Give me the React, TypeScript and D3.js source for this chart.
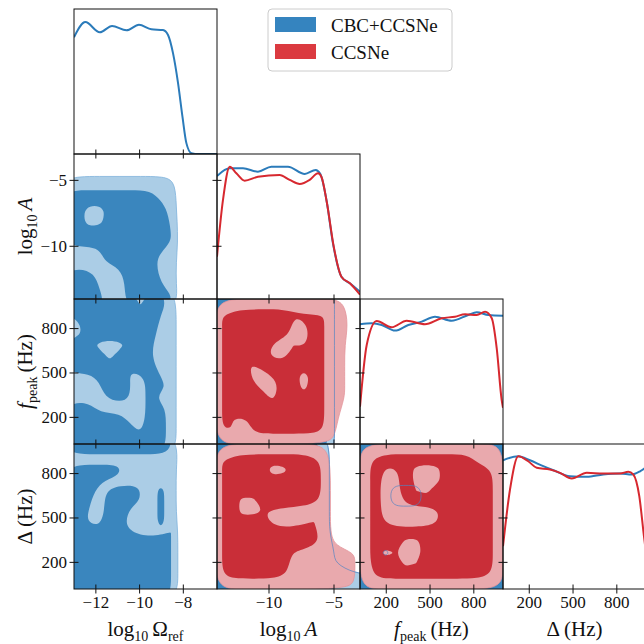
import React, { useMemo } from "react";
import * as d3 from "d3";

// axis ranges and ticks
const omegaDomain = [-13, -6.46];
const logADomain = [-14, -3];
const fpeakDomain = [20, 1000];
const deltaDomain = [20, 1000];
const omegaTicks = [-12, -10, -8];
const logATicks = [-10, -5];
const fpeakTicks = [200, 500, 800];
const deltaTicks = [200, 500, 800];

const seriesNames = ["CBC+CCSNe", "CCSNe"];

// 1D marginals: [value, relative density]
const omegaKdeBlue = [[-13.0, 0.805], [-12.48, 0.91], [-11.82, 0.839], [-11.26, 0.883], [-10.6, 0.853], [-10.03, 0.891], [-9.46, 0.86], [-8.93, 0.855], [-8.7, 0.821], [-8.47, 0.694], [-8.24, 0.487], [-8.04, 0.258], [-7.86, 0.075], [-7.63, 0.006], [-7.3, 0], [-6.46, 0]];
const logAKdeBlue = [[-14.0, 0.848], [-13.02, 0.901], [-12.0, 0.901], [-10.85, 0.878], [-9.82, 0.912], [-8.54, 0.912], [-7.25, 0.862], [-6.41, 0.89], [-6.05, 0.862], [-5.58, 0.683], [-5.08, 0.384], [-4.43, 0.154], [-3.78, 0.108], [-3.0, 0.05]];
const logAKdeRed = [[-14.0, 0.292], [-13.54, 0.683], [-13.02, 0.912], [-12.51, 0.867], [-11.87, 0.816], [-10.85, 0.843], [-9.18, 0.855], [-8.41, 0.821], [-7.64, 0.793], [-6.87, 0.821], [-6.23, 0.867], [-5.97, 0.843], [-5.54, 0.66], [-5.02, 0.361], [-4.43, 0.154], [-3.78, 0.108], [-3.0, 0.03]];
const fpeakKdeBlue = [[20, 0.826], [100, 0.832], [169, 0.821], [260, 0.782], [351, 0.821], [443, 0.844], [534, 0.878], [648, 0.85], [762, 0.89], [820, 0.908], [900, 0.89], [1000, 0.885]];
const fpeakKdeRed = [[20, 0.257], [66, 0.683], [134, 0.848], [237, 0.805], [340, 0.85], [465, 0.826], [579, 0.867], [671, 0.878], [740, 0.894], [820, 0.89], [877, 0.912], [923, 0.867], [957, 0.66], [991, 0.303], [1000, 0.25]];
const deltaKdeBlue = [[20, 0.888], [125, 0.916], [205, 0.888], [296, 0.847], [365, 0.819], [479, 0.778], [594, 0.774], [707, 0.79], [822, 0.797], [902, 0.79], [959, 0.812], [986, 0.829], [1000, 0.84]];
const deltaKdeRed = [[20, 0.295], [68, 0.686], [125, 0.916], [193, 0.881], [251, 0.836], [342, 0.824], [411, 0.801], [491, 0.762], [594, 0.801], [707, 0.797], [822, 0.797], [879, 0.808], [913, 0.79], [954, 0.64], [986, 0.364], [1000, 0.25]];

// 2D densities on a 14x14 grid (0 empty, 4 outer level, 8 inner level)
const omegaLogABlue = [
  "00000000000000",
  "00000000000000",
  "33333333330000",
  "66666666440000",
  "88888888640000",
  "84488888850000",
  "84588888850000",
  "88888888860000",
  "88888888860000",
  "44488888650000",
  "44488888440000",
  "88444888440000",
  "88444888640000",
  "88844888860000",
];
const omegaFpeakBlue = [
  "88888848840000",
  "88888888640000",
  "48888888440000",
  "58888888440000",
  "88545886440000",
  "88858886440000",
  "88888886440000",
  "55888448640000",
  "44488848840000",
  "44488648440000",
  "88444448840000",
  "88888448840000",
  "88888848840000",
  "88888888840000",
];
const omegaDeltaBlue = [
  "88888888860000",
  "44444444440000",
  "88888444440000",
  "88844444440000",
  "88488884740000",
  "88488864740000",
  "85488544740000",
  "85488444740000",
  "88888644560000",
  "88888888860000",
  "88888888860000",
  "88888888860000",
  "88888888860000",
  "88888888860000",
];
const logAFpeakRed = [
  "44444444444420",
  "68888886686430",
  "68888885486430",
  "68888885486430",
  "68888546586420",
  "68888448886420",
  "68858888886420",
  "68844688486420",
  "68885488586420",
  "68888468886420",
  "68888888886310",
  "66488888886300",
  "66488888886300",
  "44444444443200",
];
const logAFpeakBlue = [
  "88888888888200", "88888888888200", "88888888888200", "88888888888200",
  "88888888888200", "88888888888200", "88888888888200", "88888888888200",
  "88888888888200", "88888888888200", "88888888888200", "88888888888200",
  "88888888888200", "88888888888200",
];
const logADeltaRed = [
  "44444444443000",
  "68888888885000",
  "68888458885000",
  "68888888885000",
  "68888888885000",
  "68558888885000",
  "68556554455000",
  "68888444465000",
  "68888888885000",
  "68888888885100",
  "68888885555442",
  "68888884445442",
  "68888884445442",
  "44444444444432",
];
const logADeltaBlue = [
  "88888888884000", "88888888884000", "88888888884000", "88888888884000",
  "88888888884000", "88888888884000", "88888888884000", "88888888884000",
  "88888888884000", "88888888884000", "88888888886200", "88888888886200",
  "88888888888642", "88888888888644",
];
const fpeakDeltaRed = [
  "44444444444444",
  "48888888888554",
  "48558545888884",
  "48448545888884",
  "48458658888884",
  "48458888888884",
  "48444445888884",
  "48544445888884",
  "48888888888884",
  "48885588888884",
  "48564488888884",
  "48885688888884",
  "48888888888884",
  "44444444444444",
];
const fpeakDeltaBlue = [
  "88888888888888", "88888888888888", "88888888888888", "88888888888888",
  "88844488888888", "88844488888888", "88888888888888", "88888888888888",
  "88888888888888", "88888888888888", "88588888888888", "88888888888888",
  "88888888888888", "88888888888888",
];

const LEFT = 74;
const TOP = 9;
const PW = 143;
const PH = 145;
const FONT = "'Liberation Serif', 'DejaVu Serif', serif";

const fills = {
  blue: ["#abcde6", "#3a86be"],
  red: ["#e9a9ad", "#c92e38"],
};
const lineColors = { blue: "#2b7bba", red: "#d7282f" };

const vars = [
  { domain: omegaDomain, ticks: omegaTicks },
  { domain: logADomain, ticks: logATicks },
  { domain: fpeakDomain, ticks: fpeakTicks },
  { domain: deltaDomain, ticks: deltaTicks },
];

const diagSeries = [
  [{ data: omegaKdeBlue, color: "blue" }],
  [{ data: logAKdeBlue, color: "blue" }, { data: logAKdeRed, color: "red" }],
  [{ data: fpeakKdeBlue, color: "blue" }, { data: fpeakKdeRed, color: "red" }],
  [{ data: deltaKdeBlue, color: "blue" }, { data: deltaKdeRed, color: "red" }],
];

const panels2d = [
  { r: 1, c: 0, layers: [{ grid: omegaLogABlue, pad: "edge", color: "blue" }] },
  { r: 2, c: 0, layers: [{ grid: omegaFpeakBlue, pad: "edge", color: "blue" }] },
  { r: 3, c: 0, layers: [{ grid: omegaDeltaBlue, pad: "edge", color: "blue" }] },
  {
    r: 2, c: 1,
    layers: [{ grid: logAFpeakBlue, pad: "edge", color: "blue" }, { grid: logAFpeakRed, pad: "zero", color: "red" }],
    outline: { grid: logAFpeakBlue, level: 2 },
  },
  {
    r: 3, c: 1,
    layers: [{ grid: logADeltaBlue, pad: "edge", color: "blue" }, { grid: logADeltaRed, pad: "zero", color: "red" }],
    outline: { grid: logADeltaBlue, level: 2 },
  },
  {
    r: 3, c: 2,
    layers: [{ grid: fpeakDeltaBlue, pad: "edge", color: "blue" }, { grid: fpeakDeltaRed, pad: "zero", color: "red" }],
    outline: { grid: fpeakDeltaBlue, level: 6 },
  },
];

const smooth = d3.line().curve(d3.curveBasisClosed);

// thin out long rings so the basis spline rounds them more
function thin(ring: number[][]) {
  const pts = ring.slice(0, -1);
  if (pts.length <= 12) return pts;
  return pts.filter((_, i) => i % 2 === 0);
}

function contourPaths(grid: string[], pad: string, levels: number[], xs: any, ys: any): string[] {
  const n = grid[0].length;
  const m = grid.length;
  const N = n + 2;
  const M = m + 2;
  const vals: number[] = [];
  for (let j = 0; j < M; j++) {
    for (let i = 0; i < N; i++) {
      const ii = i - 1;
      const jj = j - 1;
      if (pad === "zero" && (ii < 0 || jj < 0 || ii >= n || jj >= m)) {
        vals.push(0);
        continue;
      }
      const ci = Math.max(0, Math.min(n - 1, ii));
      const cj = Math.max(0, Math.min(m - 1, jj));
      vals.push(+grid[cj][ci]);
    }
  }
  // grid cell index -> data value
  const gx = d3.scaleLinear().domain([1, n + 1]).range(xs.domain());
  const gy = d3.scaleLinear().domain([1, m + 1]).range([ys.domain()[1], ys.domain()[0]]);
  return d3
    .contours()
    .size([N, M])
    .thresholds(levels)(vals)
    .map((ct) =>
      ct.coordinates
        .map((poly) =>
          poly
            .map((ring) => smooth(thin(ring).map(([cx, cy]) => [xs(gx(cx)), ys(gy(cy))]) as any))
            .join("")
        )
        .join("")
    );
}

const fmt = (v: number) => (v < 0 ? "\u2212" + Math.abs(v) : String(v));

function labelParts(i: number) {
  const sub = 14;
  if (i === 0)
    return [
      <tspan key="a">log</tspan>,
      <tspan key="b" fontSize={sub} dy={5}>10</tspan>,
      <tspan key="c" dy={-5} dx={4}>Ω</tspan>,
      <tspan key="d" fontSize={sub} dy={5}>ref</tspan>,
    ];
  if (i === 1)
    return [
      <tspan key="a">log</tspan>,
      <tspan key="b" fontSize={sub} dy={5}>10</tspan>,
      <tspan key="c" dy={-5} dx={4} fontStyle="italic">A</tspan>,
    ];
  if (i === 2)
    return [
      <tspan key="a" fontStyle="italic">f</tspan>,
      <tspan key="b" fontSize={sub} dy={5}>peak</tspan>,
      <tspan key="c" dy={-5} dx={4}>(Hz)</tspan>,
    ];
  return [<tspan key="a">Δ</tspan>, <tspan key="c" dx={4}>(Hz)</tspan>];
}

export default function App() {
  const xScales = vars.map((v, c) => d3.scaleLinear().domain(v.domain).range([LEFT + c * PW, LEFT + (c + 1) * PW]));
  const yScales = vars.map((v, r) => d3.scaleLinear().domain(v.domain).range([TOP + (r + 1) * PH, TOP + r * PH]));

  const panels = useMemo(
    () =>
      panels2d.map((p) => {
        const xs = xScales[p.c];
        const ys = yScales[p.r];
        const layers = p.layers.map((l) => ({
          color: l.color,
          paths: contourPaths(l.grid, l.pad, [2, 6], xs, ys),
        }));
        const outline = p.outline ? contourPaths(p.outline.grid, "edge", [p.outline.level], xs, ys)[0] : null;
        return { ...p, layers, outline };
      }),
    []
  );

  const diagLine = d3.line().curve(d3.curveMonotoneX);

  const cells: { r: number; c: number }[] = [];
  for (let r = 0; r < 4; r++) for (let c = 0; c <= r; c++) cells.push({ r, c });

  return (
    <svg width={644} height={644} style={{ position: "absolute", left: 0, top: 0, background: "#fff" }} fontFamily={FONT}>
      <defs>
        {cells.map(({ r, c }) => (
          <clipPath key={`cp${r}${c}`} id={`clip${r}${c}`}>
            <rect x={LEFT + c * PW} y={TOP + r * PH} width={PW} height={PH} />
          </clipPath>
        ))}
      </defs>

      {panels.map((p) => (
        <g key={`p${p.r}${p.c}`} clipPath={`url(#clip${p.r}${p.c})`}>
          {p.layers.map((l, li) =>
            l.paths.map((d, k) => (
              <path
                key={`${li}-${k}`}
                d={d}
                fill={fills[l.color][k]}
                fillRule="evenodd"
                stroke={k === 0 ? (l.color === "blue" ? "#7fb3dc" : "#e3949a") : "none"}
                strokeWidth={0.8}
              />
            ))
          )}
          {p.outline && <path d={p.outline} fill="none" stroke="#4f83c4" strokeOpacity={0.75} strokeWidth={0.9} />}
        </g>
      ))}

      {diagSeries.map((series, i) => {
        const xs = xScales[i];
        const ys = d3.scaleLinear().domain([0, 1]).range([TOP + (i + 1) * PH, TOP + i * PH]);
        return (
          <g key={`d${i}`} clipPath={`url(#clip${i}${i})`}>
            {series.map((s, k) => (
              <path
                key={k}
                d={diagLine(s.data.map(([v, d]) => [xs(v), ys(d)]) as any) || ""}
                fill="none"
                stroke={lineColors[s.color]}
                strokeWidth={2}
              />
            ))}
          </g>
        );
      })}

      {cells.map(({ r, c }) => (
        <rect key={`f${r}${c}`} x={LEFT + c * PW} y={TOP + r * PH} width={PW} height={PH} fill="none" stroke="#111" strokeWidth={1} />
      ))}

      {/* x ticks */}
      {cells.map(({ r, c }) =>
        vars[c].ticks.map((t) => {
          const x = xScales[c](t);
          const y = TOP + (r + 1) * PH;
          return <line key={`xt${r}${c}${t}`} x1={x} x2={x} y1={y - 4.5} y2={y + 4.5} stroke="#111" strokeWidth={1} />;
        })
      )}
      {/* y ticks */}
      {cells
        .filter(({ r }) => r > 0)
        .map(({ r, c }) =>
          vars[r].ticks.map((t) => {
            const y = yScales[r](t);
            const x = LEFT + c * PW;
            return <line key={`yt${r}${c}${t}`} x1={x - 4.5} x2={x + 4.5} y1={y} y2={y} stroke="#111" strokeWidth={1} />;
          })
        )}

      {/* tick labels */}
      {vars.map((v, c) =>
        v.ticks.map((t) => (
          <text key={`xl${c}${t}`} x={xScales[c](t)} y={TOP + 4 * PH + 19} textAnchor="middle" fontSize={17} fill="#111">
            {fmt(t)}
          </text>
        ))
      )}
      {vars.slice(1).map((v, k) =>
        v.ticks.map((t) => (
          <text key={`yl${k}${t}`} x={LEFT - 7} y={yScales[k + 1](t)} textAnchor="end" dominantBaseline="central" fontSize={17} fill="#111">
            {fmt(t)}
          </text>
        ))
      )}

      {/* axis labels */}
      {vars.map((_, c) => (
        <text key={`xa${c}`} x={LEFT + (c + 0.5) * PW} y={636} textAnchor="middle" fontSize={21} fill="#111">
          {labelParts(c)}
        </text>
      ))}
      {vars.slice(1).map((_, k) => (
        <text
          key={`ya${k}`}
          transform={`translate(32,${TOP + (k + 1.5) * PH}) rotate(-90)`}
          textAnchor="middle"
          fontSize={21}
          fill="#111"
        >
          {labelParts(k + 1)}
        </text>
      ))}

      {/* legend */}
      <g>
        <rect x={268} y={9} width={184} height={62} rx={4} fill="#fff" fillOpacity={0.85} stroke="#cccccc" />
        <rect x={275} y={17} width={41} height={15} fill="#3584bf" />
        <text x={331} y={25} dominantBaseline="central" fontSize={19} fill="#111">{seriesNames[0]}</text>
        <rect x={275} y={44} width={41} height={15} fill="#db3a40" />
        <text x={331} y={52} dominantBaseline="central" fontSize={19} fill="#111">{seriesNames[1]}</text>
      </g>
    </svg>
  );
}
